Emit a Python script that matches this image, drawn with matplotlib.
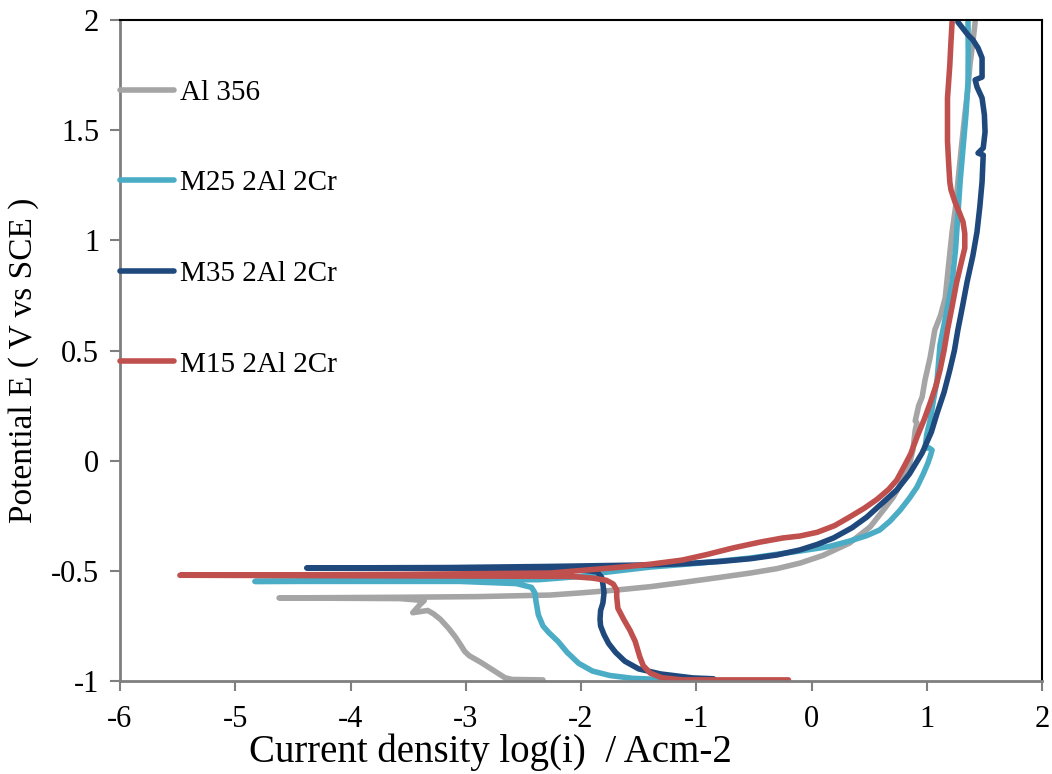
import numpy as np
import matplotlib
matplotlib.use('Agg')
import matplotlib.pyplot as plt

plt.rcParams['font.family'] = ['Liberation Serif', 'DejaVu Serif']
plt.rcParams['axes.unicode_minus'] = False

# Polarization curves (log i, E)
# each curve: cathodic end (E = -1) -> left tip -> anodic branch up to E = 2
al356_x = [-2.33, -2.60, -2.66, -2.75, -2.87, -2.97, -3.01, -3.04, -3.09, -3.15, -3.22, -3.28, -3.33,
           -3.46, -3.40, -3.36, -3.57, -4.62,
           -3.57, -2.90, -2.27, -2.00, -1.69, -1.40, -1.12, -0.80, -0.53, -0.30, -0.10, 0.10, 0.33,
           0.51, 0.63, 0.71, 0.79, 0.84, 0.88, 0.90, 0.915, 0.90, 0.93, 0.96, 0.985, 1.03, 1.07,
           1.12, 1.16, 1.19, 1.22, 1.25, 1.27, 1.30, 1.33, 1.355, 1.375, 1.40, 1.42]
al356_y = [-0.995, -0.993, -0.985, -0.955, -0.915, -0.885, -0.865, -0.84, -0.80, -0.76, -0.72, -0.695, -0.68,
           -0.69, -0.655, -0.635, -0.626, -0.623,
           -0.62, -0.617, -0.61, -0.60, -0.587, -0.572, -0.553, -0.53, -0.51, -0.49, -0.465, -0.43, -0.374,
           -0.30, -0.22, -0.165, -0.09, -0.04, 0.05, 0.139, 0.171, 0.18, 0.25, 0.289, 0.366, 0.47, 0.593,
           0.66, 0.738, 0.89, 1.038, 1.15, 1.265, 1.42, 1.569, 1.68, 1.796, 1.90, 1.991]

m25_x = [-1.00, -1.31, -1.55, -1.75, -1.90, -2.02, -2.12, -2.20, -2.28, -2.33, -2.37, -2.39, -2.40,
         -2.43, -2.56, -3.05, -4.83,
         -3.57, -2.36, -2.00, -1.84, -1.40, -0.97, -0.53, -0.10, 0.15, 0.33, 0.48, 0.59, 0.68,
         0.77, 0.85, 0.915, 0.97, 1.01, 1.03, 1.046, 1.02, 0.985, 1.00, 1.03, 1.06, 1.09, 1.115,
         1.17, 1.22, 1.25, 1.27, 1.29, 1.315, 1.34, 1.358, 1.36, 1.358]
m25_y = [-0.995, -0.993, -0.988, -0.975, -0.955, -0.92, -0.87, -0.82, -0.78, -0.75, -0.70, -0.64, -0.60,
         -0.575, -0.558, -0.548, -0.548,
         -0.545, -0.54, -0.525, -0.51, -0.483, -0.465, -0.442, -0.41, -0.39, -0.365, -0.34, -0.315, -0.275,
         -0.224, -0.17, -0.12, -0.06, -0.011, 0.02, 0.048, 0.058, 0.057, 0.12, 0.185, 0.28, 0.366, 0.525,
         0.67, 0.81, 0.96, 1.115, 1.27, 1.419, 1.57, 1.719, 1.85, 1.991]

m35_x = [-0.85, -1.03, -1.31, -1.50, -1.62, -1.70, -1.76, -1.80, -1.83, -1.835, -1.83, -1.81, -1.80,
         -1.81, -1.82, -1.86, -2.00, -2.18, -4.38,
         -3.14, -2.27, -1.40, -1.12, -0.80, -0.53, -0.30, -0.10, 0.05, 0.19, 0.35, 0.48, 0.62,
         0.74, 0.85, 0.96, 1.04, 1.09, 1.15, 1.20, 1.24, 1.27, 1.31, 1.35, 1.40, 1.436, 1.46,
         1.48, 1.49, 1.445, 1.49, 1.506, 1.50, 1.48, 1.436, 1.42, 1.48, 1.48, 1.445, 1.40, 1.358, 1.27]
m35_y = [-0.99, -0.986, -0.968, -0.945, -0.91, -0.87, -0.83, -0.79, -0.75, -0.72, -0.68, -0.646, -0.60,
         -0.56, -0.53, -0.505, -0.495, -0.49, -0.487,
         -0.485, -0.48, -0.473, -0.468, -0.458, -0.445, -0.428, -0.405, -0.38, -0.351, -0.305, -0.256, -0.19,
         -0.133, -0.06, 0.035, 0.13, 0.216, 0.31, 0.411, 0.50, 0.593, 0.70, 0.811, 0.93, 1.038, 1.15,
         1.265, 1.387, 1.396, 1.419, 1.492, 1.57, 1.646, 1.696, 1.728, 1.741, 1.828, 1.873, 1.91, 1.932, 1.991]

m15_x = [-0.20, -1.12, -1.30, -1.40, -1.46, -1.49, -1.53, -1.575, -1.63, -1.68, -1.69, -1.69, -1.72,
         -1.78, -1.90, -2.10, -5.48,
         -3.57, -2.27, -1.69, -1.40, -1.12, -0.90, -0.68, -0.45, -0.25, -0.10, 0.05, 0.20, 0.33,
         0.46, 0.57, 0.67, 0.74, 0.80, 0.86, 0.915, 0.98, 1.03, 1.08, 1.115, 1.15, 1.18, 1.22,
         1.26, 1.30, 1.33, 1.33, 1.315, 1.28, 1.245, 1.21, 1.20, 1.19, 1.18, 1.18, 1.18, 1.19,
         1.20, 1.21, 1.22]
m15_y = [-0.995, -0.995, -0.985, -0.964, -0.93, -0.89, -0.82, -0.77, -0.72, -0.67, -0.62, -0.587, -0.56,
         -0.543, -0.533, -0.525, -0.52,
         -0.516, -0.51, -0.485, -0.47, -0.451, -0.425, -0.396, -0.37, -0.351, -0.342, -0.325, -0.295, -0.256,
         -0.215, -0.175, -0.13, -0.088, -0.03, 0.03, 0.107, 0.19, 0.262, 0.34, 0.411, 0.50, 0.593, 0.70,
         0.811, 0.90, 0.965, 1.03, 1.083, 1.13, 1.174, 1.23, 1.265, 1.35, 1.45, 1.569, 1.646, 1.72,
         1.796, 1.90, 1.991]

labels = ['Al 356', 'M25 2Al 2Cr', 'M35 2Al 2Cr', 'M15 2Al 2Cr']
colors = ['#A5A5A5', '#4BACC6', '#1F497D', '#C0504D']
xticks = [-6, -5, -4, -3, -2, -1, 0, 1, 2]
yticks = [-1, -0.5, 0, 0.5, 1, 1.5, 2]
ytick_labels = ['-1', '-0.5', '0', '0.5', '1', '1.5', '2']

fig = plt.figure(figsize=(10.52, 7.74), dpi=100)
ax = fig.add_axes([120/1052, 93/774, 922/1052, 661/774])

curves = [(al356_x, al356_y), (m25_x, m25_y), (m35_x, m35_y), (m15_x, m15_y)]
for (cx, cy), lab, col in zip(curves, labels, colors):
    ax.plot(cx, cy, color=col, lw=4, label=lab,
            solid_capstyle='round', solid_joinstyle='round')

ax.set_xlim(-6, 2)
ax.set_ylim(-1, 2)
ax.set_xticks(xticks)
ax.set_yticks(yticks)
ax.set_yticklabels(ytick_labels)
ax.tick_params(axis='both', direction='out', length=7, width=1.5, color='#7F7F7F', labelsize=22)
ax.tick_params(axis='y', pad=8)
ax.tick_params(axis='x', pad=10)

# Excel style frame: gray axis lines, thin black box on top/right
ax.spines['left'].set_color('#7F7F7F')
ax.spines['bottom'].set_color('#7F7F7F')
ax.spines['left'].set_linewidth(2)
ax.spines['bottom'].set_linewidth(2)
ax.spines['top'].set_color('black')
ax.spines['right'].set_color('black')
ax.spines['top'].set_linewidth(1.5)
ax.spines['right'].set_linewidth(1.5)

leg = ax.legend(loc='upper left', bbox_to_anchor=(0, 0.91), frameon=False,
                borderaxespad=0, borderpad=0, handlelength=1.85, handletextpad=0.2,
                labelspacing=2.2, fontsize=21)
for h in leg.get_lines():
    h.set_solid_capstyle('round')

fig.text(490/1052, 1 - 752/774, 'Current density log(i)  / Acm-2', ha='center', va='center', fontsize=28)
fig.text(24/1052, 1 - 360/774, 'Potential E ( V vs SCE )', ha='center', va='center',
         rotation=90, fontsize=24)

fig.savefig('out.png', dpi=100)
